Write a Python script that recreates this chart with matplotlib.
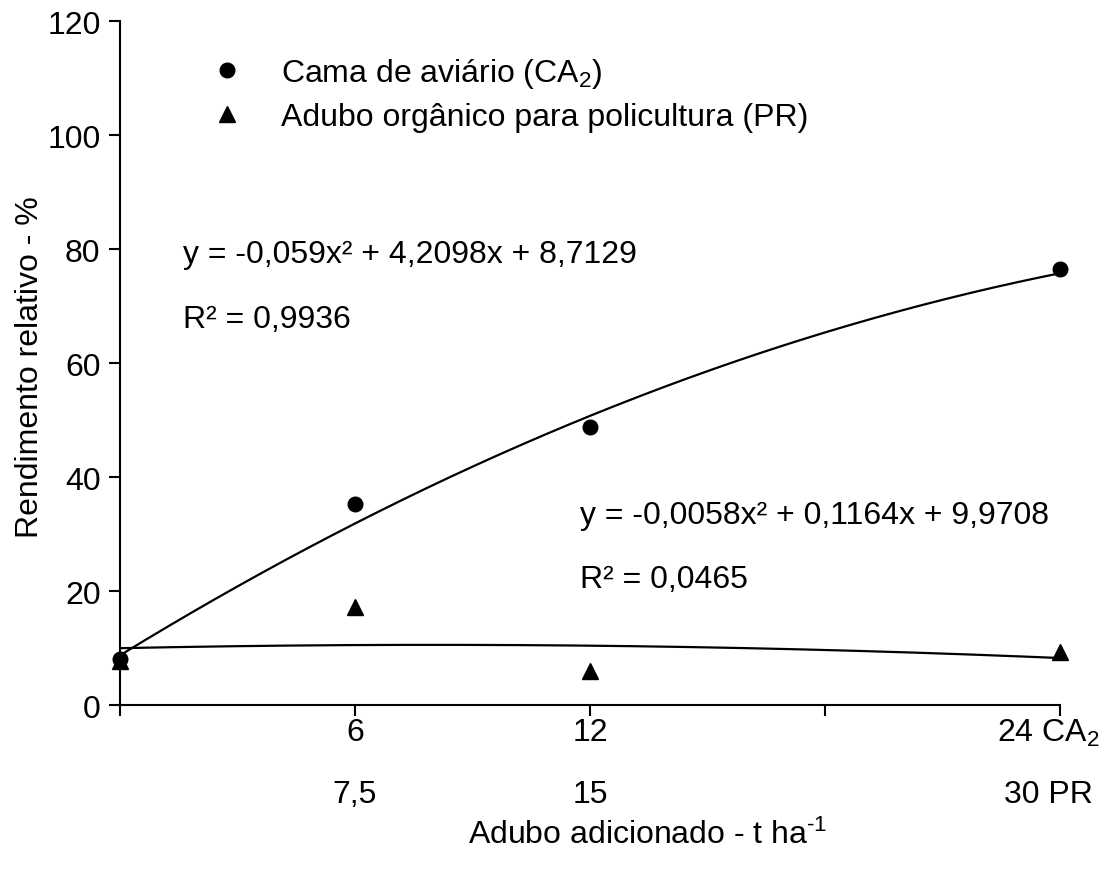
import numpy as np
import matplotlib
matplotlib.use("Agg")
import matplotlib.pyplot as plt
from matplotlib.transforms import blended_transform_factory

plt.rcParams['font.family'] = ['Liberation Sans', 'DejaVu Sans']
plt.rcParams['mathtext.fontset'] = 'custom'
plt.rcParams['mathtext.rm'] = 'Liberation Sans'
plt.rcParams['mathtext.it'] = 'Liberation Sans:italic'
plt.rcParams['mathtext.bf'] = 'Liberation Sans:bold'

# data (x on the CA2 scale; PR doses are 1.25x)
dose_ca = [0, 6, 12, 24]
dose_pr = [0, 7.5, 15, 30]
ca_vals = [8.0, 35.2, 48.8, 76.5]
pr_vals = [7.8, 17.2, 5.9, 9.3]
ca_coef = [-0.059, 4.2098, 8.7129]
pr_coef = [-0.0058, 0.1164, 9.9708]
row1_labels = ['', '6', '12', '', '24 CA$_2$']
row2_labels = ['', '7,5', '15', '', '30 PR']
xticks = [0, 6, 12, 18, 24]

fs = 23
fig = plt.figure(figsize=(11.11, 8.70), dpi=100)
ax = fig.add_axes([0.108, 0.1885, 0.846, 0.786])

scale = dose_ca[-1] / dose_pr[-1]
x_ca = np.linspace(0, 24, 200)
x_pr = np.linspace(0, 30, 200)
ax.plot(x_ca, np.polyval(ca_coef, x_ca), color='black', lw=1.6, zorder=2)
ax.plot(x_pr * scale, np.polyval(pr_coef, x_pr), color='black', lw=1.6, zorder=2)

ax.plot(dose_ca, ca_vals, 'o', color='black', ms=10.5, clip_on=False, zorder=3,
        label='Cama de aviário (CA$_2$)')
ax.plot(np.array(dose_pr) * scale, pr_vals, '^', color='black', ms=11, clip_on=False,
        zorder=3, label='Adubo orgânico para policultura (PR)')

ax.set_xlim(0, 24)
ax.set_ylim(0, 120)
ax.set_yticks(range(0, 121, 20))
ax.set_xticks(xticks)
ax.set_xticklabels([])
for s in ['top', 'right']:
    ax.spines[s].set_visible(False)
for s in ['left', 'bottom']:
    ax.spines[s].set_linewidth(1.5)
ax.tick_params(axis='both', direction='out', length=8, width=1.5, labelsize=fs)
ax.tick_params(axis='y', pad=6)

tr = blended_transform_factory(ax.transData, fig.transFigure)
for x, a, b in zip(xticks, row1_labels, row2_labels):
    if a:
        off = -0.3 if x == 24 else 0
        ax.text(x + off, 1 - 733 / 870, a, transform=tr, ha='center', va='center',
                fontsize=fs)
        ax.text(x + off, 1 - 795 / 870, b, transform=tr, ha='center', va='center',
                fontsize=fs)

fig.text(648 / 1111, 1 - 835 / 870, r'Adubo adicionado - t ha$^{\text{-1}}$', ha='center',
         va='center', fontsize=fs)
fig.text(30 / 1111, 1 - 367 / 870, 'Rendimento relativo - %', rotation=90,
         ha='center', va='center', fontsize=fs)

ax.legend(loc='upper left', bbox_to_anchor=(0.083, 0.968), frameon=False, fontsize=fs,
          handlelength=1.0, handletextpad=1.2, labelspacing=0.38, numpoints=1,
          markerscale=1.0, borderaxespad=0)

ax.text(183 / 1111, 1 - 255 / 870, 'y = -0,059x² + 4,2098x + 8,7129', transform=fig.transFigure,
        ha='left', va='center', fontsize=fs)
ax.text(183 / 1111, 1 - 320 / 870, 'R² = 0,9936', transform=fig.transFigure,
        ha='left', va='center', fontsize=fs)
ax.text(580 / 1111, 1 - 516 / 870, 'y = -0,0058x² + 0,1164x + 9,9708', transform=fig.transFigure,
        ha='left', va='center', fontsize=fs)
ax.text(580 / 1111, 1 - 580 / 870, 'R² = 0,0465', transform=fig.transFigure,
        ha='left', va='center', fontsize=fs)

fig.savefig('out.png', dpi=100)
